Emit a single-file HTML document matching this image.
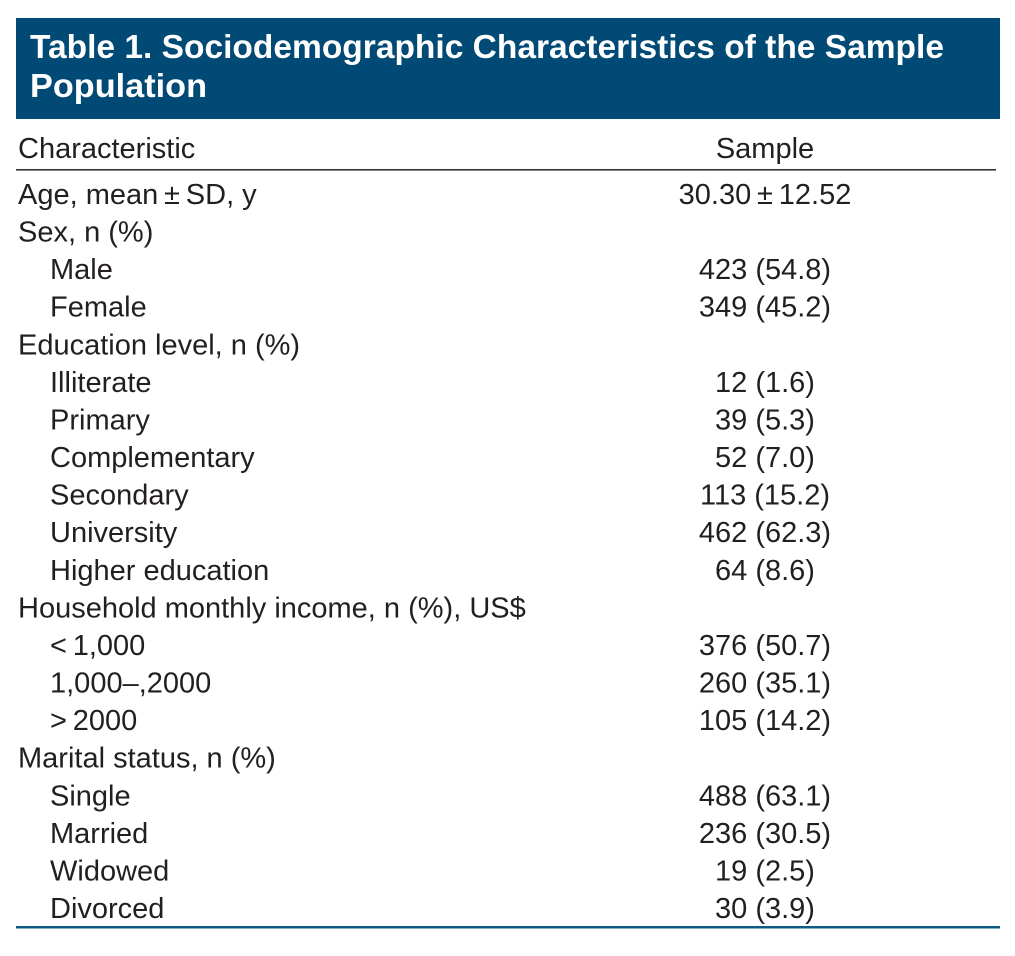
<!DOCTYPE html>
<html><head><meta charset="utf-8"><style>
html,body{margin:0;padding:0;background:#fff;}
svg{display:block;}
text{font-family:"Liberation Sans",sans-serif;fill:#231f20;font-size:29px;}
</style></head><body>
<svg width="1015" height="956" viewBox="0 0 1015 956">
<rect x="16" y="18" width="984" height="101" fill="#004a75"/>
<text x="30" y="58" style="fill:#fff;font-weight:bold;font-size:33px" textLength="914" lengthAdjust="spacingAndGlyphs">Table 1. Sociodemographic Characteristics of the Sample</text>
<text x="30" y="97" style="fill:#fff;font-weight:bold;font-size:33px" textLength="177" lengthAdjust="spacingAndGlyphs">Population</text>
<text x="18" y="158">Characteristic</text>
<text x="765" y="158" text-anchor="middle">Sample</text>
<rect x="16" y="169" width="980" height="1.6" fill="#333"/>
<g id="rows"></g>
<rect x="16" y="926" width="984" height="2.5" fill="#0e5a85"/>
</svg>
<script>
const labels=["Age, mean\u2009\u00b1\u2009SD, y","Sex, n (%)","Male","Female","Education level, n (%)","Illiterate","Primary","Complementary","Secondary","University","Higher education","Household monthly income, n (%), US$","<\u20091,000","1,000\u2013,2000",">\u20092000","Marital status, n (%)","Single","Married","Widowed","Divorced"];
const indents=[0,0,1,1,0,1,1,1,1,1,1,0,1,1,1,0,1,1,1,1];
const values=["30.30\u2009\u00b1\u200912.52","","423 (54.8)","349 (45.2)","","12 (1.6)","39 (5.3)","52 (7.0)","113 (15.2)","462 (62.3)","64 (8.6)","","376 (50.7)","260 (35.1)","105 (14.2)","","488 (63.1)","236 (30.5)","19 (2.5)","30 (3.9)"];
const g=document.getElementById('rows');
const NS="http://www.w3.org/2000/svg";
labels.forEach((l,i)=>{
  const y=204+i*37.58;
  const t=document.createElementNS(NS,'text');
  t.setAttribute('x',indents[i]?50:18);t.setAttribute('y',y);t.textContent=l;
  
  
  g.appendChild(t);
  if(values[i]){
    const v=document.createElementNS(NS,'text');
    v.setAttribute('x',765);v.setAttribute('y',y);v.setAttribute('text-anchor','middle');v.textContent=values[i];
    
    
    g.appendChild(v);
  }
});
</script>
</body></html>
